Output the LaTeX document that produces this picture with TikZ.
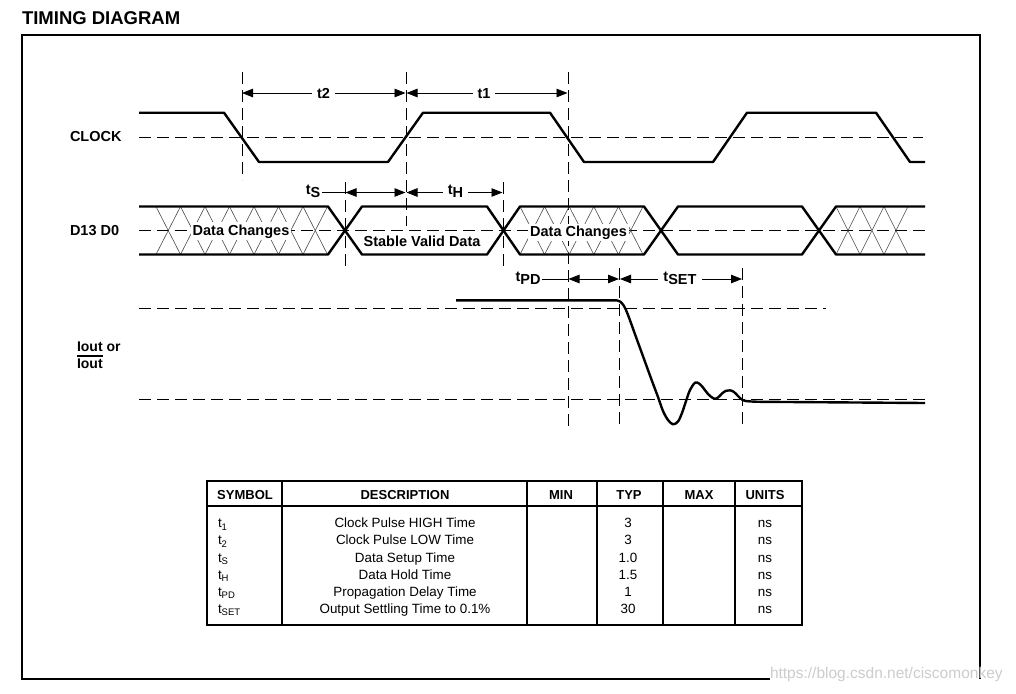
\documentclass[tikz,border=0pt]{standalone}
\usepackage{fontspec}
\setmainfont{Liberation Sans}
\usetikzlibrary{arrows.meta}
\newcommand\tsup[1]{\raisebox{3.3pt}{t}#1}
\newcommand\tsubtab[1]{t\raisebox{-2.5pt}{\fontsize{9.5}{9.5}\selectfont #1}}
\newcommand\ovlbox[1]{\leavevmode\vbox{\hrule height 1.2pt\kern 1.8pt\hbox{#1}}}
\begin{document}
\begin{tikzpicture}[x=1pt,y=-1pt,
  every node/.style={inner sep=0pt, outer sep=0pt},
  sig/.style={line width=2.4pt, line join=round},
  dl/.style={line width=0.9pt, dash pattern=on 12pt off 6pt},
  hatch/.style={line width=0.6pt, black!70},
  dim/.style={line width=0.8pt, {Triangle[length=11pt,width=8.5pt]}-{Triangle[length=11pt,width=8.5pt]}},
  thinl/.style={line width=0.8pt},
  lab/.style={font=\fontsize{14.5}{17}\selectfont\bfseries},
  dimlab/.style={lab, fill=white, inner xsep=5pt, inner ysep=1pt, anchor=base},
  thh/.style={font=\fontsize{13}{15}\selectfont\bfseries, anchor=base},
  tb/.style={font=\fontsize{13.4}{15}\selectfont, anchor=base},
]
\fill[white] (0,0) rectangle (1016,693);
\useasboundingbox (0,0) rectangle (1016,693);

% title and frame
\node[anchor=base west, font=\fontsize{18.5}{21}\selectfont\bfseries] (title) at (22,25) {TIMING DIAGRAM};
\draw[line width=2pt] (770,679) -- (22,679) -- (22,35) -- (980,35) -- (980,679);

% dashed reference lines
\draw[dl] (139,137) -- (923,137);
\draw[dl] (139,230.5) -- (925,230.5);
\draw[dl] (139,308.5) -- (826,308.5);
\draw[dl] (139,399) -- (925,399);
\draw[dl] (242,72) -- (242,180);
\draw[dl] (406,72) -- (406,226);
\draw[dl] (568,72) -- (568,426);
\draw[dl] (345,182) -- (345,269);
\draw[dl] (503,182) -- (503,269);
\draw[dl] (619.5,268) -- (619.5,426);
\draw[dl] (742,268) -- (742,426);

% hatching of "data changes" regions
\foreach \i in {0,...,6}{
  \pgfmathsetmacro\xa{156+24.5*\i}
  \pgfmathsetmacro\xb{\xa+24.5}
  \draw[hatch] (\xa,206.5) -- (\xb,254.5) (\xa,254.5) -- (\xb,206.5);
}
\foreach \i in {0,...,4}{
  \pgfmathsetmacro\xa{520+24.6*\i}
  \pgfmathsetmacro\xb{\xa+24.6}
  \draw[hatch] (\xa,206.5) -- (\xb,254.5) (\xa,254.5) -- (\xb,206.5);
}
\foreach \i in {0,...,2}{
  \pgfmathsetmacro\xa{836+24*\i}
  \pgfmathsetmacro\xb{\xa+24}
  \draw[hatch] (\xa,206.5) -- (\xb,254.5) (\xa,254.5) -- (\xb,206.5);
}

% clock
\draw[sig] (139,112.7) -- (224,112.7) -- (259,162) -- (388,162) -- (423,112.7) -- (550,112.7) -- (584,162) -- (713,162) -- (747,112.7) -- (876,112.7) -- (910,162) -- (925,162);

% data bus
\draw[sig] (139,206.5) -- (328,206.5) -- (362,254.5) -- (487,254.5) -- (520,206.5) -- (644,206.5) -- (678,254.5) -- (802,254.5) -- (836,206.5) -- (925,206.5);
\draw[sig] (139,254.5) -- (328,254.5) -- (362,206.5) -- (487,206.5) -- (520,254.5) -- (644,254.5) -- (678,206.5) -- (802,206.5) -- (836,254.5) -- (925,254.5);

% output current
\draw[sig] (456,300.3) -- plot[smooth, tension=0.55] coordinates {(616,300.3) (620,301.5) (624,306) (628,315) (636,337) (644,359) (652,381) (658,397) (663,411) (668,420) (673,424.3) (678,421.5) (682,413) (686,401) (690,390) (695,382.7) (699,383.5) (703,387.5) (708,394) (714,398.7) (718,397.5) (722,393.5) (726,390.8) (730,390.3) (734,392) (738,396) (743,400.3) (750,401.4) (760,401.8)} -- (925,403);

% signal names
\node[lab, anchor=base west] (clk) at (70,141.7) {CLOCK};
\node[lab, anchor=base west] (dat) at (70,235) {D13 D0};
\node[anchor=base west, font=\fontsize{14}{16}\selectfont\bfseries] (io1) at (77,351.5) {Iout or};
\node[anchor=base west, font=\fontsize{14}{16}\selectfont\bfseries] (io2) at (77,368) {\ovlbox{Iout}};

% data labels
\node[lab, fill=white, inner xsep=2pt, inner ysep=2pt, anchor=base] (dc1) at (241,235) {Data Changes};
\node[lab, fill=white, inner xsep=2pt, inner ysep=1.5pt, anchor=base] (dc2) at (578.5,236) {Data Changes};
\node[lab, fill=white, inner sep=1pt, anchor=base] (svd) at (422,246.5) {Stable Valid Data};

% dimension arrows
\coordinate (t2a) at (242,93);   \coordinate (t2b) at (405.5,93);
\coordinate (t1a) at (406.5,93); \coordinate (t1b) at (567.5,93);
\draw[dim] (t2a) -- (t2b);
\draw[dim] (t1a) -- (t1b);
\node[dimlab] (t2) at (323.5,98) {t2};
\node[dimlab] (t1) at (484,98) {t1};

\coordinate (tsa) at (345.5,192.5); \coordinate (tsb) at (405.5,192.5);
\coordinate (tha) at (406.5,192.5); \coordinate (thb) at (502.5,192.5);
\node[lab, anchor=base, inner xsep=1.5pt] (ts) at (313,197.5) {\tsup{S}};
\draw[thinl] (ts.east |- tsa) -- (tsa);
\draw[dim] (tsa) -- (tsb);
\draw[dim] (tha) -- (thb);
\node[dimlab] (th) at (455.5,197.5) {\tsup{H}};

\coordinate (pda) at (568.5,279); \coordinate (pdb) at (619,279);
\coordinate (sta) at (620,279);   \coordinate (stb) at (742,279);
\node[lab, anchor=base, inner xsep=1.5pt] (tpd) at (528,284.5) {\tsup{PD}};
\draw[thinl] (tpd.east |- pda) -- (pda);
\draw[dim] (pda) -- (pdb);
\draw[dim] (sta) -- (stb);
\node[dimlab] (tset) at (680,284.5) {\tsup{SET}};

% table
\draw[line width=2pt] (207,481) rectangle (802,625);
\draw[line width=2pt] (207,506) -- (802,506);
\foreach \x in {282,527,597,663,735} \draw[line width=1.5pt] (\x,481) -- (\x,625);
\node[thh] (hsym) at (245,499) {SYMBOL};
\node[thh] (hdesc) at (405,499) {DESCRIPTION};
\node[thh] (hmin) at (561,499) {MIN};
\node[thh] (htyp) at (629,499) {TYP};
\node[thh] (hmax) at (699,499) {MAX};
\node[thh] (hunit) at (765,499) {UNITS};
\foreach \i/\s/\d/\v/\y in {
 1/{\tsubtab{1}}/{Clock Pulse HIGH Time}/3/527.8,
 2/{\tsubtab{2}}/{Clock Pulse LOW Time}/3/544.9,
 3/{\tsubtab{S}}/{Data Setup Time}/1.0/562,
 4/{\tsubtab{H}}/{Data Hold Time}/1.5/579.1,
 5/{\tsubtab{PD}}/{Propagation Delay Time}/1/596.2,
 6/{\tsubtab{SET}}/{Output Settling Time to 0.1\%}/30/613.3}
{
 \node[tb, anchor=base west] (sym\i) at (218,\y) {\s};
 \node[tb] (desc\i) at (405,\y) {\d};
 \node[tb] (typ\i) at (628,\y) {\v};
 \node[tb] (unit\i) at (765,\y) {ns};
}

% watermark
\node[anchor=base west, font=\fontsize{15.5}{17}\selectfont, text=black!20] (wm) at (770,678) {https://blog.csdn.net/ciscomonkey};
\end{tikzpicture}
\end{document}
